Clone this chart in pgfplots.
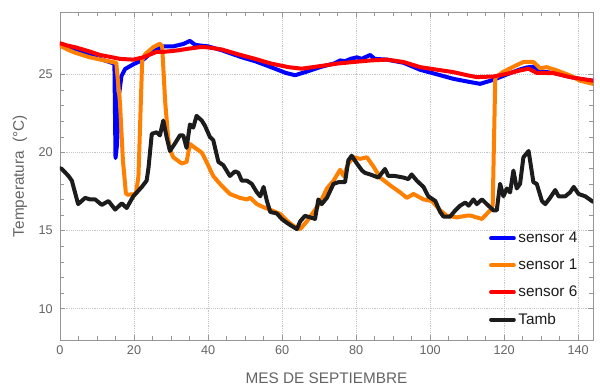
\documentclass[border=0pt]{standalone}
\usepackage{fontspec}
\setmainfont{Liberation Sans}
\usepackage{pgfplots}
\pgfplotsset{compat=1.18}
\definecolor{sblue}{RGB}{0,0,255}
\definecolor{sorange}{RGB}{255,128,0}
\definecolor{sred}{RGB}{255,0,0}
\definecolor{sblack}{RGB}{28,28,28}
\definecolor{axgray}{RGB}{150,150,150}
\definecolor{txgray}{RGB}{100,100,100}
\begin{document}
\begin{tikzpicture}
\path[use as bounding box] (-45pt,-33.75pt) rectangle (405pt,255pt);
\begin{axis}[
  scale only axis, width=399.75pt, height=246pt,
  xmin=0, xmax=144, ymin=8, ymax=29,
  xtick={0,20,...,140}, minor x tick num=3,
  ytick={10,15,20,25}, minor y tick num=4,
  tick align=inside,
  major tick length=4pt, minor tick length=3pt,
  every tick/.style={axgray},
  axis line style={axgray},
  grid=major,
  major grid style={densely dotted, gray!45, line width=0.6pt},
  /pgf/number format/assume math mode=true,
  ticklabel style={font=\fontsize{9.5}{11}\selectfont, text=txgray},
  yticklabel style={xshift=-2pt},
  xticklabel style={yshift=-1pt},
  xlabel={MES DE SEPTIEMBRE},
  ylabel={Temperatura\ \ (°C)},
  label style={font=\fontsize{11.5}{13}\selectfont, text=txgray},
  xlabel style={at={(axis description cs:0.5,-0.116)}, anchor=center},
  ylabel style={at={(axis description cs:-0.075,0.5)}, anchor=center, rotate=0},
  legend style={at={(0.797,0.346)}, anchor=north west, draw=none, fill=none,
    font=\fontsize{11.5}{13}\selectfont, text=sblack, row sep=6.8pt},
  legend cell align=left,
  every axis plot/.append style={line width=3pt, line join=round, line cap=round},
]
\addplot[sblue] coordinates {
(0,26.9) (2,26.75) (4,26.55) (6,26.4) (8,26.25) (10,26.05) (12,25.9) (14,25.75) (14.7,25.7)
(15.0,19.65) (15.4,20.5) (16.0,23.8) (16.6,24.9) (17.6,25.35) (19.8,25.65) (22.5,25.95)
(25.2,26.5) (27.9,26.8) (30.6,26.8) (33.3,26.95) (35.1,27.15) (36.5,26.9) (38,26.85)
(40,26.8) (43.7,26.55) (49.1,26.1) (52.7,25.85) (57.2,25.45) (61,25.1) (63.5,24.95)
(66.2,25.15) (70.7,25.5) (74,25.7) (75.7,25.9) (77,25.85) (78.5,26.0) (80.2,26.1)
(81.5,26.0) (83.8,26.25) (85,26.0) (88.3,25.95) (92.8,25.75) (97.3,25.3) (102,25.0)
(106.3,24.72) (110,24.55) (113.5,24.4) (117.1,24.66) (120.7,25.0) (124,25.3) (126.1,25.45)
(127.9,25.5) (129.7,25.2) (133.3,25.1) (137.8,24.85) (140.5,24.7) (144,24.6)
};
\addlegendentry{sensor 4}
\addplot[sorange] coordinates {
(0,26.85) (2,26.6) (4,26.4) (6,26.25) (8,26.1) (10,26.0) (12,25.9) (14,25.8) (15.2,25.75)
(16.2,23.2) (17.0,19.5) (17.8,17.4) (18.2,17.3) (20.5,17.35) (21.2,18.5) (22.2,25.9)
(23,26.3) (25.2,26.75) (27,26.97) (27.6,26.8) (28.4,23.3) (29.2,21) (29.7,20.2) (30.6,19.7)
(32.9,19.3) (34.2,19.4) (35.1,20.55) (36.5,20.3) (38.3,20.0) (39.6,19.4) (41.4,18.5)
(43.2,18.0) (45.9,17.35) (48.6,17.1) (50.5,17.0) (51.4,17.1) (53.2,16.7) (55,16.5)
(57.2,16.3) (59.5,16.07) (61.3,15.64) (63.1,15.3) (64.9,15.1) (66.7,15.6) (68.5,16.2)
(70.3,16.8) (72.1,17.7) (73.9,18.2) (75.7,18.9) (76.6,18.5) (77.9,19.3) (79.3,19.7)
(81.1,19.6) (82.9,19.7) (84.7,19.1) (86.5,18.4) (89.2,17.9) (91.9,17.45) (93.7,17.1)
(95.5,17.35) (98.2,17.0) (100.5,16.9) (102.7,16.3) (104.5,15.96) (107.2,15.85) (109.9,15.96)
(111,15.96) (114,15.75) (116.2,16.3) (116.9,16.6) (117.6,24.8) (118,24.85) (119.6,25.15)
(122.5,25.5) (125.2,25.8) (127.9,25.8) (129.7,25.4) (131.5,25.47) (134.2,25.26)
(137.8,24.94) (140.5,24.6) (144,24.4)
};
\addlegendentry{sensor 1}
\addplot[sred] coordinates {
(0,27.0) (2,26.85) (4,26.75) (7.6,26.5) (10.8,26.25) (13,26.15) (16.2,26.0) (19.8,25.95)
(22.5,26.1) (26.1,26.45) (28,26.45) (30.2,26.5) (32,26.55) (34.7,26.65) (37.8,26.75)
(39.2,26.75) (41,26.7) (43.7,26.6) (48,26.3) (52.7,26.0) (57,25.7) (61.7,25.47)
(65.3,25.37) (70.7,25.55) (75,25.7) (79.3,25.8) (84,25.9) (88.3,25.95) (92.8,25.8)
(97.3,25.47) (102,25.3) (106.3,25.15) (110,24.95) (112.6,24.83) (117.1,24.87)
(120.7,25.04) (124.3,25.26) (126.6,25.37) (128.8,25.1) (133.3,25.09) (137.8,24.83)
(140,24.75) (144,24.6)
};
\addlegendentry{sensor 6}
\addplot[sblack] coordinates {
(0,19.0) (0.5,18.95) (2.3,18.5) (3.2,18.2) (4.9,16.7) (6.8,17.1) (8.1,17.0) (9.5,17.0)
(11.3,16.65) (13.1,16.9) (14.9,16.35) (16.7,16.75) (18.0,16.45) (19.8,17.2) (22.1,17.8)
(23.4,18.2) (23.9,19.0) (24.8,21.2) (26.1,21.3) (27.0,21.1) (27.9,22.05) (28.8,21.0)
(29.7,20.1) (31.1,20.6) (32.4,21.1) (33.3,21.1) (34.2,20.3) (35.1,21.8) (36.0,21.6)
(36.9,22.35) (38.3,22.05) (39.2,21.7) (40.5,21.0) (41.4,20.8) (42.8,19.4) (44.1,19.2)
(45.9,18.5) (47.3,18.8) (48.2,18.7) (49.1,18.2) (50.5,18.2) (51.8,18.0) (53.2,17.45)
(54.1,17.2) (55.0,17.8) (55.9,16.9) (56.8,16.2) (58.6,16.1) (59.9,15.75) (61.3,15.5)
(62.6,15.3) (64.0,15.1) (64.9,15.6) (66.2,15.95) (67.6,15.85) (68.9,15.75) (69.8,17.0)
(70.7,16.7) (72.1,17.1) (73.9,18.0) (75.2,18.1) (77.0,18.1) (77.9,19.5) (78.8,19.8)
(80.2,19.3) (81.6,18.85) (82.4,18.7) (83.8,18.6) (86.0,18.4) (87.8,18.95) (88.7,18.5)
(90.5,18.5) (92.8,18.4) (94.1,18.3) (95.0,18.6) (96.4,18.2) (98.2,17.8) (99.5,17.2)
(101.4,16.9) (102.7,16.2) (103.6,15.9) (105.4,15.9) (106.8,16.3) (108.1,16.6) (109.5,16.8)
(110.4,16.6) (111.7,17.0) (112.6,16.7) (114.0,17.0) (115.3,16.7) (117.1,16.3) (118.0,16.3)
(118.9,18.0) (119.8,17.2) (120.7,17.7) (121.6,17.45) (122.5,18.85) (123.4,17.7)
(124.3,18.0) (125.2,19.7) (126.6,20.1) (127.9,18.1) (128.8,18.0) (130.2,16.9) (131.1,16.7)
(132.4,17.1) (133.8,17.6) (134.7,17.2) (136.5,17.2) (137.8,17.45) (138.8,17.8)
(140.1,17.35) (141.9,17.2) (143.7,16.9) (144,16.85)
};
\addlegendentry{Tamb}
\end{axis}
\end{tikzpicture}
\end{document}
